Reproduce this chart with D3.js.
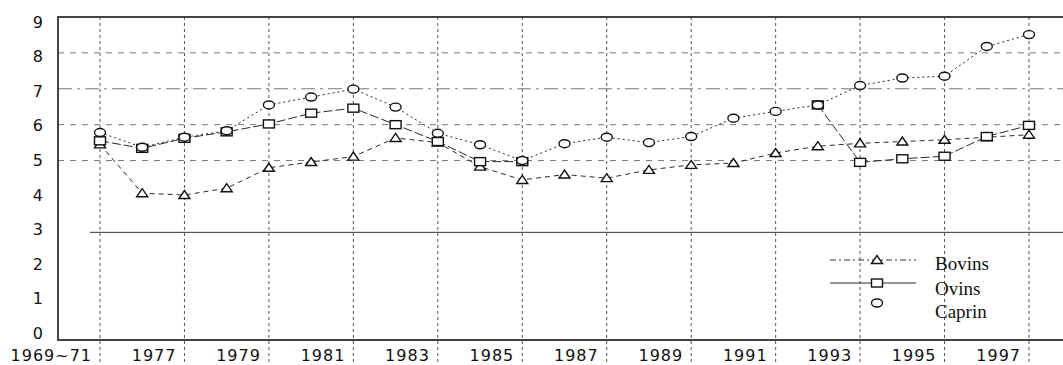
<!DOCTYPE html>
<html>
<head>
<meta charset="utf-8">
<script src="https://cdn.jsdelivr.net/npm/d3@7"></script>
<style>
  body { margin: 0; background: #fff; }
  svg { display: block; }
</style>
</head>
<body>
<div id="chart"></div>
<script>
// categories and series (null = no value)
const categories = ["1969~71", "1976", "1977", "1978", "1979", "1980", "1981", "1982", "1983", "1984",
  "1985", "1986", "1987", "1988", "1989", "1990", "1991", "1992", "1993", "1994", "1995", "1996", "1997"];
const bovins = [5.45, 4.09, 4.04, 4.23, 4.8, 4.96, 5.11, 5.63, 5.5, 4.83, 4.46, 4.61, 4.51, 4.74,
  4.88, 4.93, 5.21, 5.4, 5.48, 5.53, 5.58, 5.65, 5.72];
const ovins = [5.55, 5.34, 5.62, 5.8, 6.02, 6.32, 6.46, 6.0, 5.53, 4.97, 4.97, null, null, null,
  null, null, null, 6.55, 4.95, 5.05, 5.12, 5.67, 5.98];
const caprin = [5.78, 5.37, 5.65, 5.83, 6.55, 6.77, 6.99, 6.49, 5.76, 5.44, 5.0, 5.47, 5.65, 5.5,
  5.67, 6.18, 6.37, 6.55, 7.09, 7.3, 7.35, 8.18, 8.51];
const yTicks = [0, 1, 2, 3, 4, 5, 6, 7, 8, 9];
const gridValues = [5, 6, 7, 8];

const width = 1063, height = 365;
const marginLeft = 58, marginTop = 17, marginBottom = 25;

const x = d3.scalePoint(categories, [100, 1029]);
const y = d3.scaleLinear([0, 9], [height - marginBottom, marginTop]);
// tick labels sit slightly inside the frame at both ends
const yLabel = d3.scaleLinear([0, 9], [333, 22]);

const svg = d3.select("#chart").append("svg")
    .attr("width", width)
    .attr("height", height)
    .attr("viewBox", [0, 0, width, height]);

const ink = "#2a2a2a";
const labelFont = "'DejaVu Sans', sans-serif";

// horizontal grid
svg.append("g")
  .selectAll("line")
  .data(gridValues)
  .join("line")
    .attr("x1", marginLeft).attr("x2", width)
    .attr("y1", d => y(d)).attr("y2", d => y(d))
    .attr("stroke", "#777")
    .attr("stroke-width", 1)
    .attr("stroke-dasharray", d => d === 7 ? "14,5,3,5" : "6,6");

svg.append("line")
    .attr("x1", 90).attr("x2", width)
    .attr("y1", y(3)).attr("y2", y(3))
    .attr("stroke", "#333")
    .attr("stroke-width", 1);

// vertical grid at every other category
const labelled = categories.filter((d, i) => i % 2 === 0);
svg.append("g")
  .selectAll("line")
  .data(labelled)
  .join("line")
    .attr("x1", d => x(d)).attr("x2", d => x(d))
    .attr("y1", marginTop).attr("y2", height - 2)
    .attr("stroke", "#555")
    .attr("stroke-width", 1)
    .attr("stroke-dasharray", "3,3");

// frame
svg.append("path")
    .attr("d", `M${width},${marginTop}H${marginLeft}V${y(0)}H${width}`)
    .attr("fill", "none")
    .attr("stroke", "#444")
    .attr("stroke-width", 2);

// y axis labels
svg.append("g")
    .attr("font-family", labelFont)
    .attr("font-size", 16)
    .attr("fill", "#111")
  .selectAll("text")
  .data(yTicks)
  .join("text")
    .attr("x", 43)
    .attr("y", d => yLabel(d))
    .attr("dy", "0.36em")
    .attr("text-anchor", "end")
    .text(d => d);

// x axis labels, right aligned before their gridline
svg.append("g")
    .attr("font-family", labelFont)
    .attr("font-size", 16)
    .attr("letter-spacing", 1)
    .attr("fill", "#111")
  .selectAll("text")
  .data(labelled)
  .join("text")
    .attr("x", d => x(d) - 8)
    .attr("y", 361)
    .attr("text-anchor", "end")
    .text(d => d);

// series
const series = [
  {name: "Bovins", values: bovins, dash: "5,4", marker: "triangle"},
  {name: "Ovins", values: ovins, dash: "9,3", marker: "square"},
  {name: "Caprin", values: caprin, dash: "2,3", marker: "circle"}
];

const line = d3.line()
    .defined(d => d.v != null)
    .x(d => x(d.c))
    .y(d => y(d.v));

function drawMarker(g, type, cx, cy) {
  if (type === "triangle") {
    g.append("path")
        .attr("d", `M${cx - 5.5},${cy + 3.5}L${cx},${cy - 4.5}L${cx + 5.5},${cy + 3.5}Z`);
  } else if (type === "square") {
    g.append("rect")
        .attr("x", cx - 5.5).attr("y", cy - 4)
        .attr("width", 11).attr("height", 8);
  } else {
    g.append("ellipse")
        .attr("cx", cx).attr("cy", cy)
        .attr("rx", 5.5).attr("ry", 4);
  }
}

for (const s of series) {
  const pts = categories.map((c, i) => ({c, v: s.values[i]}));
  svg.append("path")
      .datum(pts)
      .attr("fill", "none")
      .attr("stroke", ink)
      .attr("stroke-width", 1)
      .attr("stroke-dasharray", s.dash)
      .attr("d", line);
  const g = svg.append("g")
      .attr("fill", "#fff")
      .attr("stroke", "#111")
      .attr("stroke-width", 1.4);
  pts.filter(d => d.v != null).forEach(d => drawMarker(g, s.marker, x(d.c), y(d.v)));
}

// legend
const legend = svg.append("g");
const legendRows = [
  {name: "Bovins", marker: "triangle", dash: "6,3,2,3", ly: 260, ty: 270, line: true},
  {name: "Ovins", marker: "square", dash: null, ly: 283, ty: 295, line: true},
  {name: "Caprin", marker: "circle", dash: null, ly: 303, ty: 318, line: false}
];
legendRows.forEach(r => {
  if (r.line) legend.append("line")
      .attr("x1", 830).attr("x2", 916)
      .attr("y1", r.ly).attr("y2", r.ly)
      .attr("stroke", ink)
      .attr("stroke-width", 1)
      .attr("stroke-dasharray", r.dash);
  const g = legend.append("g")
      .attr("fill", "#fff")
      .attr("stroke", "#111")
      .attr("stroke-width", 1.4);
  drawMarker(g, r.marker, 877, r.ly);
  legend.append("text")
      .attr("x", 935)
      .attr("y", r.ty)
      .attr("font-family", "'Liberation Serif', 'Times New Roman', serif")
      .attr("font-size", 19)
      .attr("fill", "#111")
      .text(r.name);
});
</script>
</body>
</html>
